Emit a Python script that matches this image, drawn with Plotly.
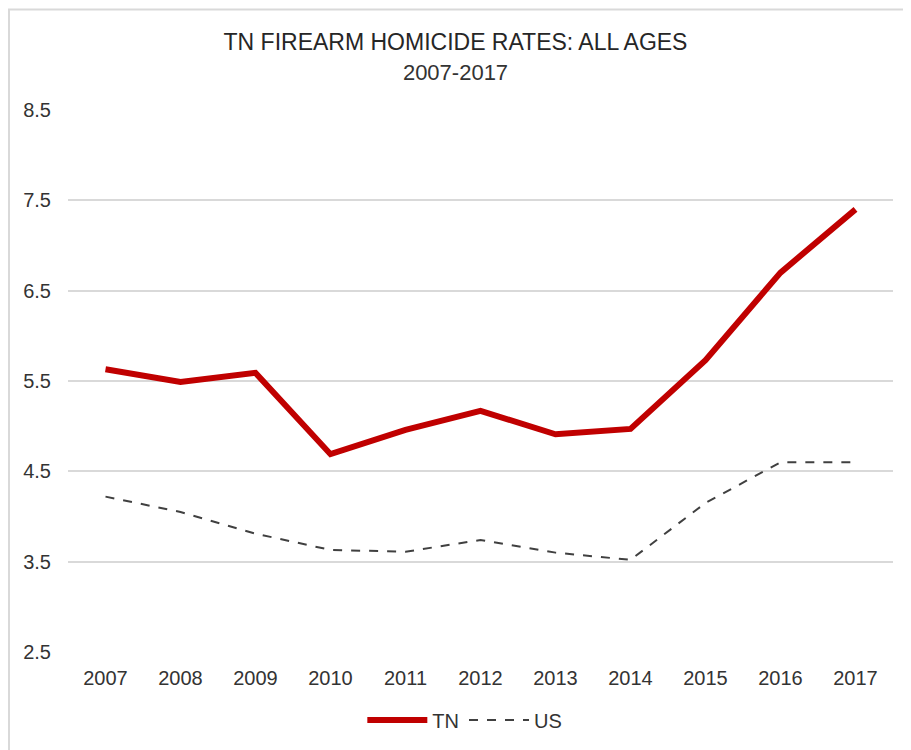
import plotly.graph_objects as go

# Data
years = ["2007", "2008", "2009", "2010", "2011", "2012", "2013", "2014", "2015", "2016", "2017"]
tn_rates = [5.63, 5.49, 5.59, 4.69, 4.96, 5.17, 4.91, 4.97, 5.73, 6.70, 7.40]
us_rates = [4.22, 4.05, 3.81, 3.63, 3.61, 3.74, 3.60, 3.52, 4.15, 4.60, 4.60]
y_ticks = [2.5, 3.5, 4.5, 5.5, 6.5, 7.5, 8.5]

# page body adds an 8px offset, so margins are set 8px smaller
W, H = 911, 750
L, T = 60, 102
pw, ph = 825, 542
R, B = W - L - pw, H - T - ph

fig = go.Figure()

fig.add_trace(go.Scatter(
    x=years, y=tn_rates, mode="lines", name="TN",
    line=dict(color="#C00000", width=6),
))
fig.add_trace(go.Scatter(
    x=years, y=us_rates, mode="lines", name="US",
    line=dict(color="#404040", width=2, dash="dash"),
))

# Chart border (light gray frame, running off the right and bottom edges)
fig.add_shape(
    type="rect", xref="paper", yref="paper",
    x0=(1 - L) / pw, x1=(W + 10 - L) / pw,
    y0=-(H + 10 - T - ph) / ph, y1=(T + ph - 1.5) / ph,
    line=dict(color="#D9D9D9", width=2), layer="below",
)

fig.update_layout(
    width=W, height=H,
    margin=dict(l=L, r=R, t=T, b=B, autoexpand=False),
    paper_bgcolor="white", plot_bgcolor="white",
    font=dict(family="Liberation Sans, Arial, sans-serif", size=20, color="#333333"),
    title=dict(
        text="TN FIREARM HOMICIDE RATES: ALL AGES<br><span style='font-size:22px;color:#333333'>2007-2017</span>",
        x=447.5 / W, xanchor="center", y=1 - 42 / H, yanchor="middle",
        font=dict(size=23, color="#262626"),
    ),
    xaxis=dict(
        type="category", range=[-0.5, 10.5],
        showgrid=False, showline=False, zeroline=False,
        ticks="", ticklabelstandoff=12,
    ),
    yaxis=dict(
        range=[2.5, 8.5], tickvals=y_ticks, ticktext=[f"{v:.1f}" for v in y_ticks],
        showgrid=True, gridcolor="#D9D9D9", gridwidth=2,
        zeroline=False, showline=False, ticks="", ticklabelstandoff=16,
    ),
    showlegend=True,
    legend=dict(
        orientation="h", x=0.481, xanchor="center",
        y=-(712 - T - ph) / ph, yanchor="middle",
        font=dict(size=20, color="#333333"),
        itemwidth=60,
    ),
)

fig.write_html("out.html")
